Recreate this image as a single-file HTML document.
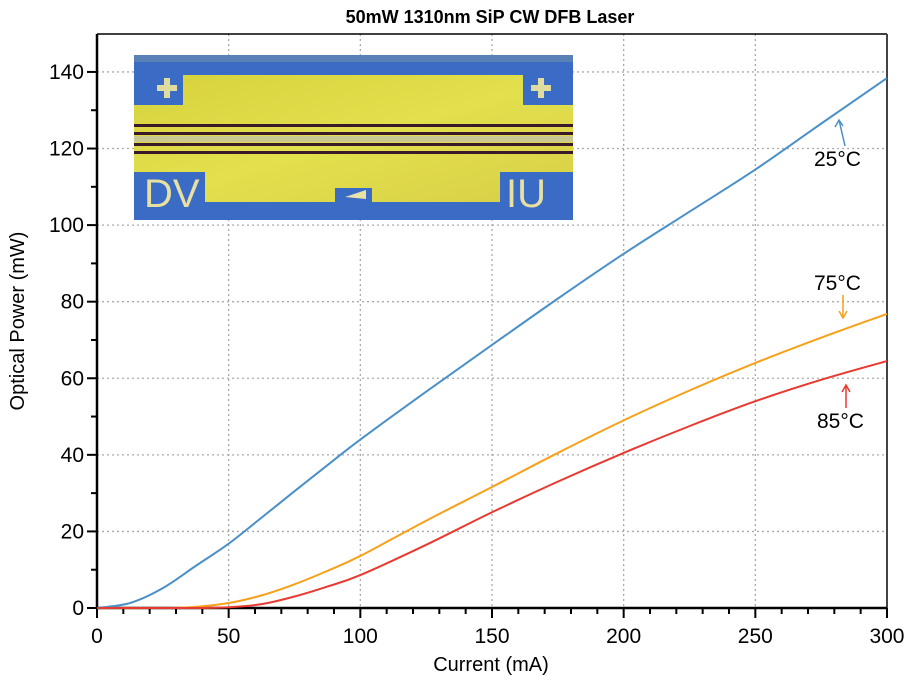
<!DOCTYPE html>
<html><head><meta charset="utf-8"><style>
body{margin:0;background:#fff;}
svg{display:block;font-family:"Liberation Sans",sans-serif;}
</style></head><body>
<svg id="s" width="912" height="684" viewBox="0 0 912 684">
<defs>
<linearGradient id="yg" x1="0" y1="0" x2="1" y2="1">
<stop offset="0" stop-color="#d6d23e"/><stop offset="0.5" stop-color="#e2e04c"/><stop offset="1" stop-color="#d8cf48"/>
</linearGradient>
</defs>
<text x="490" y="23" text-anchor="middle" font-size="18" font-weight="bold">50mW 1310nm SiP CW DFB Laser</text>
<g id="grid" stroke="#aaa" stroke-width="1.3" stroke-dasharray="2,3"></g>
<g id="ticks" stroke="#000" stroke-width="2"></g>
<line x1="97" y1="34" x2="887" y2="34" stroke="#000" stroke-width="1.5"/>
<line x1="887" y1="34" x2="887" y2="608" stroke="#444" stroke-width="2"/>
<line x1="97" y1="34" x2="97" y2="609" stroke="#000" stroke-width="2.5"/>
<line x1="96" y1="608" x2="887" y2="608" stroke="#000" stroke-width="2.5"/>
<g id="labels" font-size="21" fill="#000"></g>
<text x="491" y="671" text-anchor="middle" font-size="20">Current (mA)</text>
<text transform="translate(24,321) rotate(-90)" text-anchor="middle" font-size="20">Optical Power (mW)</text>

<g>
<rect x="134" y="55" width="439" height="165" fill="#3a6cc6"/>
<rect x="134" y="55" width="439" height="7" fill="#5a80b8"/>
<path d="M183 75 H523 V105 H573 V172 H500 V202 H372 V188 H335 V202 H205 V172 H134 V105 H183 Z" fill="url(#yg)"/>
<rect x="134" y="124" width="439" height="3" fill="#3a1a2a"/>
<rect x="134" y="132" width="439" height="3" fill="#3a1a2a"/>
<rect x="134" y="136" width="439" height="6" fill="#c8c890"/>
<rect x="134" y="143" width="439" height="3" fill="#3a1a2a"/>
<rect x="134" y="151" width="439" height="3" fill="#3a1a2a"/>
<path d="M345 197 L366 190 L366 199 Z" fill="#e8e2a8"/>
<path d="M157 85 h7 v-7 h6 v7 h7 v6 h-7 v7 h-6 v-7 h-7 Z" fill="#e0dca0"/>
<path d="M531 85 h7 v-7 h6 v7 h7 v6 h-7 v7 h-6 v-7 h-7 Z" fill="#e0dca0"/>
<text x="144" y="207" font-size="40" fill="#e8e0a0">DV</text>
<text x="506" y="207" font-size="40" fill="#e8e0a0">IU</text>
</g>

<path id="blue" fill="none" stroke="#4a90c8" stroke-width="2"/>
<path id="orange" fill="none" stroke="#f7a11a" stroke-width="2"/>
<path id="red" fill="none" stroke="#e83a30" stroke-width="2"/>

<g font-size="21">
<text x="814" y="166">25°C</text>
<text x="814" y="290">75°C</text>
<text x="817" y="428">85°C</text>
</g>
<g stroke-width="1.5" fill="none">
<path d="M845 146 L839 120 M835 127 L839 120 L843 126" stroke="#4a90c8"/>
<path d="M843 295 L843 318 M839 311 L843 318 L847 311" stroke="#f7a11a"/>
<path d="M846 408 L846 385 M842 392 L846 385 L850 392" stroke="#e83a30"/>
</g>
</svg>
<script>
const X=m=>97+m*2.6333, Y=p=>608-p*3.829;
const g=document.getElementById('grid'),t=document.getElementById('ticks'),l=document.getElementById('labels');
const ns='http://www.w3.org/2000/svg';
function el(p,n,a,txt){const e=document.createElementNS(ns,n);for(const k in a)e.setAttribute(k,a[k]);if(txt!==undefined)e.textContent=txt;p.appendChild(e);}
for(let m=50;m<300;m+=50)el(g,'line',{x1:X(m),x2:X(m),y1:34,y2:608});
for(let p=20;p<=140;p+=20)el(g,'line',{x1:97,x2:887,y1:Y(p),y2:Y(p)});
for(let m=0;m<=300;m+=10){const maj=m%50==0;el(t,'line',{x1:X(m),x2:X(m),y1:608,y2:608+(maj?10:6)});
 if(maj)el(l,'text',{x:X(m),y:643,'text-anchor':'middle'},m);}
for(let p=0;p<=140;p+=10){const maj=p%20==0;el(t,'line',{x1:97,x2:97-(maj?10:6),y1:Y(p),y2:Y(p)});
 if(maj)el(l,'text',{x:84,y:Y(p)+7,'text-anchor':'end'},p);}
function path(pts){const P=pts.map(([m,p])=>[X(m),Y(p)]);let d='M'+P[0][0]+' '+P[0][1];
 for(let i=0;i<P.length-1;i++){const p0=P[Math.max(0,i-1)],p1=P[i],p2=P[i+1],p3=P[Math.min(P.length-1,i+2)];
 d+=` C${p1[0]+(p2[0]-p0[0])/6} ${p1[1]+(p2[1]-p0[1])/6} ${p2[0]-(p3[0]-p1[0])/6} ${p2[1]-(p3[1]-p1[1])/6} ${p2[0]} ${p2[1]}`;}return d;}
document.getElementById('blue').setAttribute('d',path([[0,0],[12.5,1.3],[25,5.2],[37.5,11],[50,16.8],[62.5,23.6],[75,30.5],[87.5,37.3],[100,44],[125,56.5],[150,68.7],[175,80.8],[200,92.5],[225,103.5],[250,114.5],[275,126.5],[300,138.4]]));
document.getElementById('orange').setAttribute('d',path([[0,0],[25,0],[37.5,0.3],[50,1.3],[62.5,3.3],[75,6.2],[87.5,9.7],[100,13.6],[125,22.8],[150,31.6],[175,40.5],[200,49],[225,56.8],[250,64],[275,70.6],[300,76.8]]));
document.getElementById('red').setAttribute('d',path([[0,0],[37.5,0],[50,0.2],[62.5,1],[75,3],[87.5,5.6],[100,8.6],[125,16.5],[150,25],[175,33],[200,40.5],[225,47.5],[250,54],[275,59.6],[300,64.5]]));
</script>
</body></html>
